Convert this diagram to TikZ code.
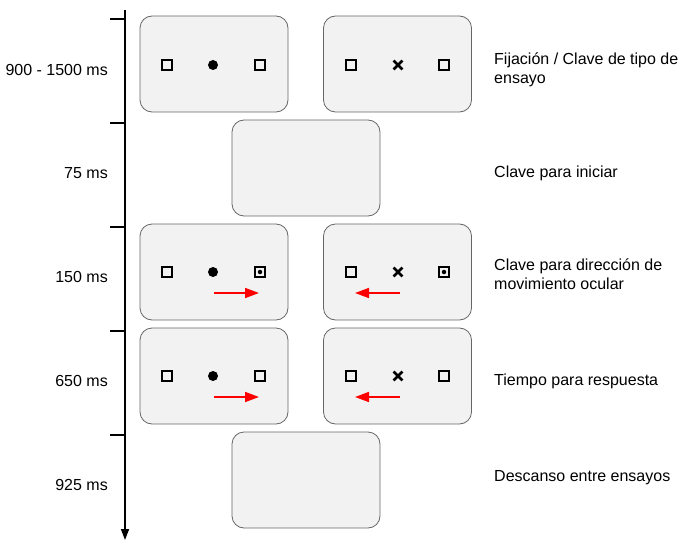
\documentclass[tikz,border=0pt]{standalone}
\usepackage{fontspec}
\setmainfont{Liberation Sans}
\usetikzlibrary{arrows.meta,shapes.misc,positioning}

\definecolor{screenfill}{HTML}{F2F2F2}
\definecolor{screenline}{HTML}{666666}

\tikzset{
	screen/.style={rectangle, draw=screenline, fill=screenfill, rounded corners=12pt, minimum width=148pt, minimum height=96pt, line width=0.8pt},
	target/.style={rectangle, draw, line width=1.7pt, minimum size=9.5pt, inner sep=0pt},
	fixdot/.style={circle, fill, minimum size=10pt, inner sep=0pt},
	cuedot/.style={circle, fill, minimum size=4.5pt, inner sep=0pt},
	fixcross/.style={cross out, draw, line width=2.8pt, minimum size=6pt, inner sep=0pt},
	saccade/.style={draw=red, line width=1.7pt, -{Triangle[length=14pt,width=10pt]}},
	timelabel/.style={anchor=east, inner sep=0pt, font=\fontsize{16pt}{19pt}\selectfont},
	phase/.style={anchor=west, inner sep=0pt, align=left, font=\fontsize{16pt}{19pt}\selectfont},
}

\begin{document}
\begin{tikzpicture}[x=1pt, y=-1pt]
		\useasboundingbox (0,0) rectangle (684,540);

		% time axis
		\coordinate (Top) at (125,10);
		\coordinate (Bottom) at (125,540);
		\coordinate (T1) at (125,19);  \coordinate (t1) at (110,19);
		\coordinate (T2) at (125,123); \coordinate (t2) at (110,123);
		\coordinate (T3) at (125,227); \coordinate (t3) at (110,227);
		\coordinate (T4) at (125,331); \coordinate (t4) at (110,331);
		\coordinate (T5) at (125,435); \coordinate (t5) at (110,435);
		\draw[line width=1.6pt, -{Triangle[length=11pt,width=8pt]}] (Top) -- (Bottom);
		\draw[line width=1.2pt] (t1) -- (T1);
		\draw[line width=1.2pt] (t2) -- (T2);
		\draw[line width=1.2pt] (t3) -- (T3);
		\draw[line width=1.2pt] (t4) -- (T4);
		\draw[line width=1.2pt] (t5) -- (T5);

		\node[timelabel] (D1) at (108,70) {900 - 1500 ms};
		\node[timelabel] (D2) at (108,173) {75 ms};
		\node[timelabel] (D3) at (108,277) {150 ms};
		\node[timelabel] (D4) at (108,381) {650 ms};
		\node[timelabel] (D5) at (108,485) {925 ms};

		% screens
		\node[screen] (S1) at (214,64) {};
		\node[screen] (S2) at (397.5,64) {};
		\node[screen] (S3) at (306,168) {};
		\node[screen] (S4) at (214,272) {};
		\node[screen] (S5) at (397.5,272) {};
		\node[screen] (S6) at (214,376) {};
		\node[screen] (S7) at (397.5,376) {};
		\node[screen] (S8) at (306,480) {};

		% fixation
		\node[target] (L1) at (167,65) {};
		\node[fixdot] (F1) at (213,65) {};
		\node[target] (R1) at (260,65) {};
		\node[target] (L2) at (351,65) {};
		\node[fixcross] (X2) at (398,65) {};
		\node[target] (R2) at (444,65) {};

		% cue
		\node[target] (L4) at (167,272) {};
		\node[fixdot] (F4) at (213,272) {};
		\node[target] (R4) at (260,272) {};
		\node[cuedot] (C4) at (260,272) {};
		\node[target] (L5) at (351,272) {};
		\node[fixcross] (X5) at (398,272) {};
		\node[target] (R5) at (444,272) {};
		\node[cuedot] (C5) at (444,272) {};

		\coordinate (A4s) at (214,293); \coordinate (A4e) at (259,293);
		\coordinate (A5s) at (400,293); \coordinate (A5e) at (355,293);
		\draw[saccade] (A4s) -- (A4e);
		\draw[saccade] (A5s) -- (A5e);

		% response
		\node[target] (L6) at (167,376) {};
		\node[fixdot] (F6) at (213,376) {};
		\node[target] (R6) at (260,376) {};
		\node[target] (L7) at (351,376) {};
		\node[fixcross] (X7) at (398,376) {};
		\node[target] (R7) at (444,376) {};

		\coordinate (A6s) at (214,397); \coordinate (A6e) at (259,397);
		\coordinate (A7s) at (400,397); \coordinate (A7e) at (355,397);
		\draw[saccade] (A6s) -- (A6e);
		\draw[saccade] (A7s) -- (A7e);

		% phases
		\node[phase] (P1) at (494,70) {Fijación / Clave de tipo de\\ensayo};
		\node[phase] (P2) at (494,173) {Clave para iniciar};
		\node[phase] (P3) at (494,274) {Clave para dirección de\\movimiento ocular};
		\node[phase] (P4) at (494,381) {Tiempo para respuesta};
		\node[phase] (P5) at (494,478) {Descanso entre ensayos};
	\end{tikzpicture}
\end{document}
